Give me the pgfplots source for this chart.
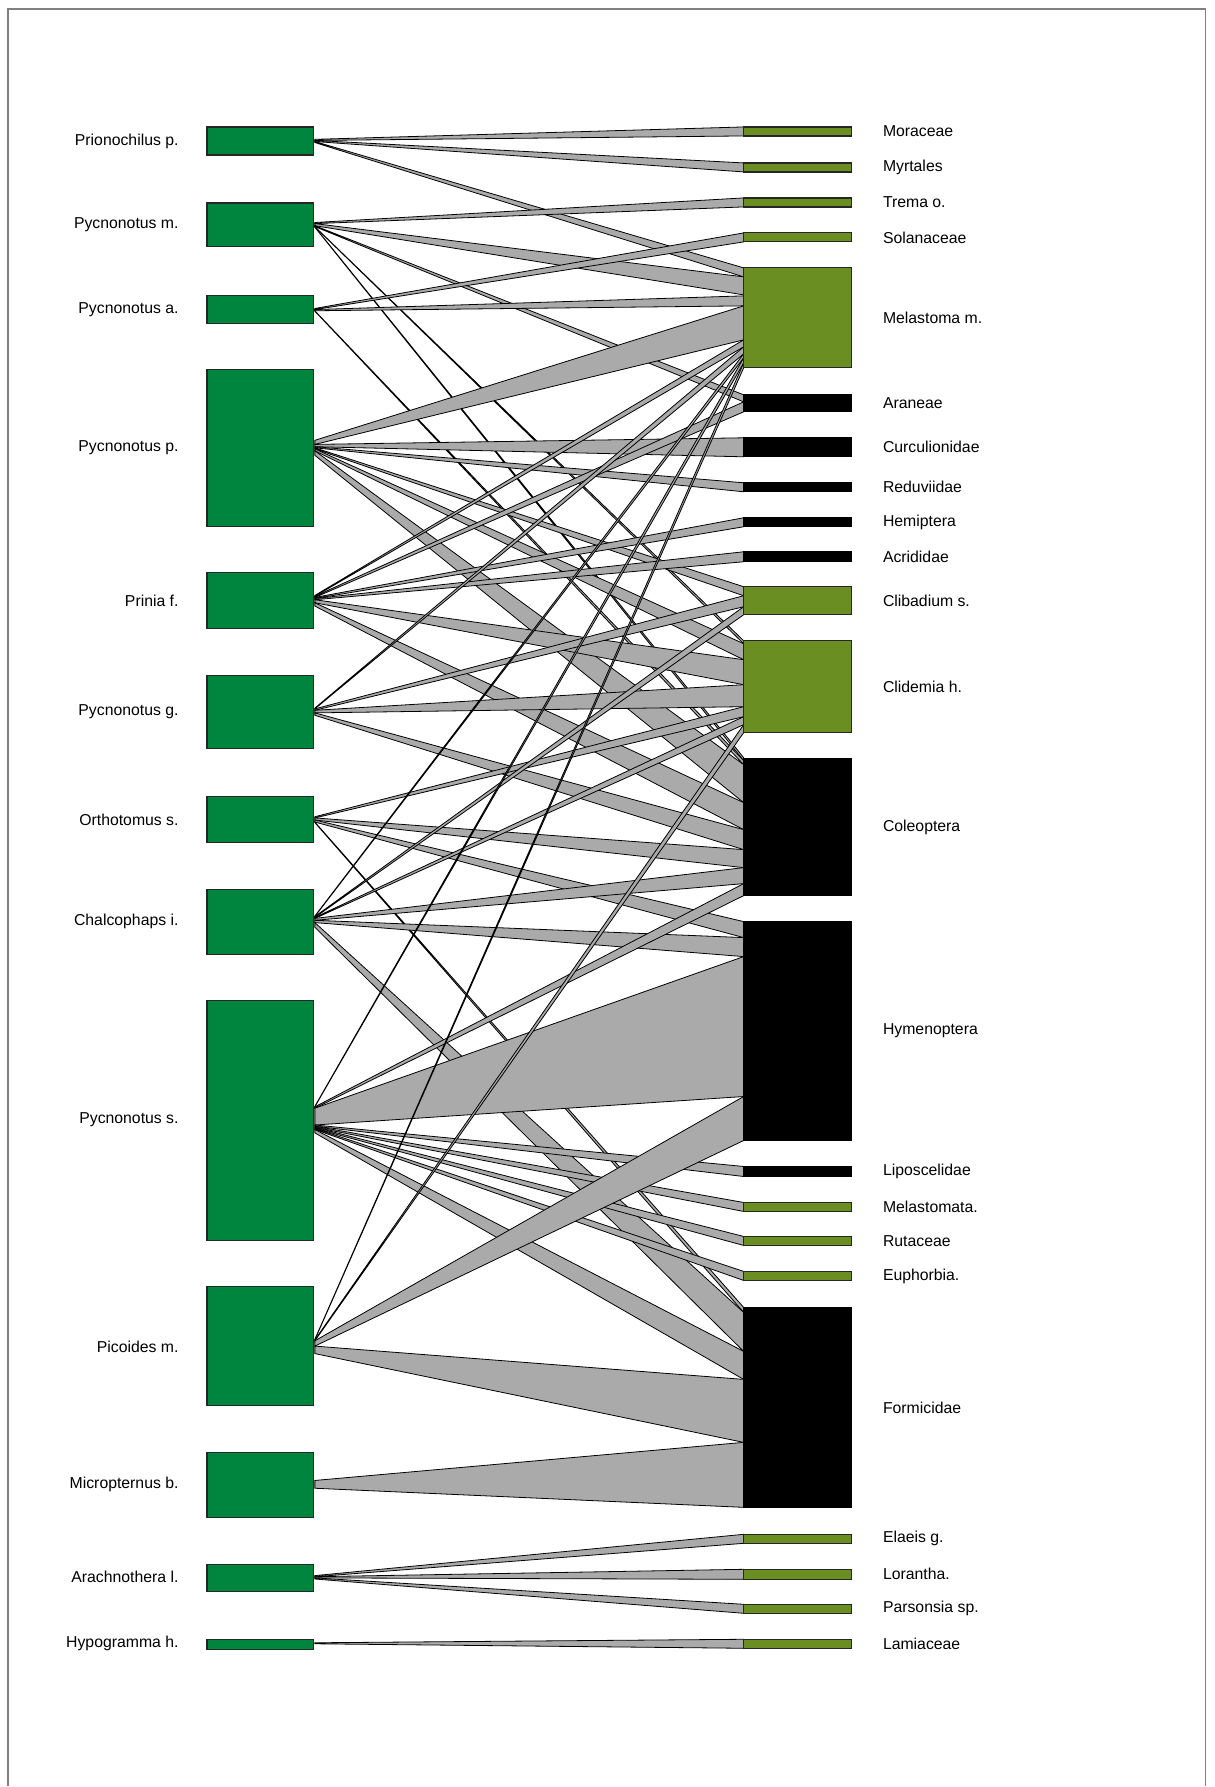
\documentclass[border=0pt]{standalone}
\usepackage{pgfplots}
\pgfplotsset{compat=1.18}
\usepackage{fontspec}
\setmainfont{Liberation Sans}
\definecolor{lgreen}{RGB}{0,133,63}
\definecolor{pgreen}{RGB}{107,142,35}
\definecolor{lnk}{RGB}{170,170,170}
\definecolor{frm}{RGB}{128,128,128}
\newcommand\lab{\fontsize{7.9}{9}\selectfont}
\newcommand\lk[4]{\addplot[lk] coordinates {(315,#1) (744,#3) (744,#4) (315,#2)} -- cycle;}
\newcommand\lbox[3]{\addplot[#1] coordinates {(207,#2) (314,#2) (314,#3) (207,#3)} -- cycle;}
\newcommand\rbox[3]{\addplot[#1] coordinates {(744,#2) (852,#2) (852,#3) (744,#3)} -- cycle;}
\begin{document}
\begin{tikzpicture}
\begin{axis}[width=607.5pt,height=893.5pt,scale only axis,
  xmin=0,xmax=1215,ymin=0,ymax=1787,y dir=reverse,hide axis,clip=false,
  lk/.style={fill=lnk,draw=black,line width=0.4pt,mark=none},
  lb/.style={fill=lgreen,draw=black!85,line width=0.6pt,mark=none},
  pb/.style={fill=pgreen,draw=black!85,line width=0.6pt,mark=none},
  ib/.style={fill=black,draw=black,line width=0.6pt,mark=none}]
\path (axis cs:0,0) rectangle (axis cs:1215,1787);
\draw[frm,line width=0.8pt] (axis cs:8,1787) -- (axis cs:8,9) -- (axis cs:1206,9) -- (axis cs:1206,1787);
% links: left y1, left y2, right y1, right y2
% Prionochilus p.
\lk{139.4}{140.5}{127}{136}
\lk{140.5}{141.6}{163}{172}
\lk{141.6}{142.6}{268}{277}
% Pycnonotus m.
\lk{222.6}{223.7}{198}{207}
\lk{223.7}{225.8}{277}{295}
\lk{225.8}{226.7}{395}{402}
\lk{226.7}{227.0}{641}{644}
\lk{227.0}{227.4}{758}{761}
% Pycnonotus a.
\lk{308.6}{309.7}{233}{242}
\lk{309.7}{310.9}{296}{306}
\lk{310.9}{311.4}{761}{765}
% Pycnonotus p.
\lk{440.5}{444.6}{306}{340}
\lk{444.6}{446.9}{438}{457}
\lk{446.9}{448.0}{483}{492}
\lk{448.0}{449.1}{587}{596}
\lk{449.1}{451.0}{644}{660}
\lk{451.0}{455.5}{765}{803}
% Prinia f.
\lk{595.7}{596.5}{340}{347}
\lk{596.5}{597.7}{402}{412}
\lk{597.7}{598.8}{518}{527}
\lk{598.8}{600.0}{552}{562}
\lk{600.0}{603.0}{660}{685}
\lk{603.0}{606.3}{803}{830}
% Pycnonotus g.
\lk{708.4}{709.2}{347}{354}
\lk{709.2}{710.6}{596}{607}
\lk{710.6}{713.2}{685}{707}
\lk{713.2}{715.6}{830}{850}
% Orthotomus s.
\lk{817.1}{818.3}{707}{717}
\lk{818.3}{820.4}{850}{868}
\lk{820.4}{822.4}{922}{938}
\lk{822.4}{823.0}{1308}{1313}
% Chalcophaps i.
\lk{916.4}{916.9}{354}{358}
\lk{916.9}{917.8}{607}{615}
\lk{917.8}{918.8}{717}{725}
\lk{918.8}{920.7}{868}{884}
\lk{920.7}{923.0}{938}{957}
\lk{923.0}{927.7}{1313}{1352}
% Pycnonotus s.
\lk{1106.7}{1107.3}{358}{363}
\lk{1107.3}{1108.7}{884}{896}
\lk{1108.7}{1125.5}{957}{1097}
\lk{1125.5}{1126.7}{1167}{1177}
\lk{1126.7}{1127.8}{1203}{1212}
\lk{1127.8}{1128.9}{1237}{1246}
\lk{1128.9}{1130.0}{1272}{1281}
\lk{1130.0}{1133.4}{1352}{1380}
% Picoides m.
\lk{1339.8}{1340.4}{363}{368}
\lk{1340.4}{1341.4}{725}{733}
\lk{1341.4}{1346.7}{1097}{1141}
\lk{1346.7}{1354.2}{1380}{1443}
% Micropternus b.
\lk{1481.1}{1488.9}{1443}{1508}
% Arachnothera l.
\lk{1576.3}{1577.4}{1535}{1544}
\lk{1577.4}{1578.6}{1570}{1580}
\lk{1578.6}{1579.7}{1605}{1614}
% Hypogramma h.
\lk{1643.5}{1644.5}{1640}{1649}
% left boxes
\lbox{lb}{127}{155}
\lbox{lb}{203}{247}
\lbox{lb}{296}{324}
\lbox{lb}{370}{527}
\lbox{lb}{573}{629}
\lbox{lb}{676}{749}
\lbox{lb}{797}{843}
\lbox{lb}{890}{955}
\lbox{lb}{1001}{1241}
\lbox{lb}{1287}{1406}
\lbox{lb}{1453}{1518}
\lbox{lb}{1565}{1592}
\lbox{lb}{1640}{1650}
% right boxes
\rbox{pb}{127}{136}
\rbox{pb}{163}{172}
\rbox{pb}{198}{207}
\rbox{pb}{233}{242}
\rbox{pb}{268}{368}
\rbox{ib}{395}{412}
\rbox{ib}{438}{457}
\rbox{ib}{483}{492}
\rbox{ib}{518}{527}
\rbox{ib}{552}{562}
\rbox{pb}{587}{615}
\rbox{pb}{641}{733}
\rbox{ib}{759}{896}
\rbox{ib}{922}{1141}
\rbox{ib}{1167}{1177}
\rbox{pb}{1203}{1212}
\rbox{pb}{1237}{1246}
\rbox{pb}{1272}{1281}
\rbox{ib}{1308}{1508}
\rbox{pb}{1535}{1544}
\rbox{pb}{1570}{1580}
\rbox{pb}{1605}{1614}
\rbox{pb}{1640}{1649}
% left labels
\begin{scope}[every node/.style={anchor=east,font=\lab,inner sep=0pt}]
\node at (axis cs:179,141) {Prionochilus p.};
\node at (axis cs:179,225) {Pycnonotus m.};
\node at (axis cs:179,310) {Pycnonotus a.};
\node at (axis cs:179,448) {Pycnonotus p.};
\node at (axis cs:179,601) {Prinia f.};
\node at (axis cs:179,712) {Pycnonotus g.};
\node at (axis cs:179,820) {Orthotomus s.};
\node at (axis cs:179,922) {Chalcophaps i.};
\node at (axis cs:179,1120) {Pycnonotus s.};
\node at (axis cs:179,1347) {Picoides m.};
\node at (axis cs:179,1485) {Micropternus b.};
\node at (axis cs:179,1578) {Arachnothera l.};
\node at (axis cs:179,1644) {Hypogramma h.};
\end{scope}
\begin{scope}[every node/.style={anchor=west,font=\lab,inner sep=0pt}]
\node at (axis cs:883,131.5) {Moraceae};
\node at (axis cs:883,167.5) {Myrtales};
\node at (axis cs:883,202.5) {Trema o.};
\node at (axis cs:883,237.5) {Solanaceae};
\node at (axis cs:883,318) {Melastoma m.};
\node at (axis cs:883,403.5) {Araneae};
\node at (axis cs:883,447.5) {Curculionidae};
\node at (axis cs:883,487.5) {Reduviidae};
\node at (axis cs:883,522.5) {Hemiptera};
\node at (axis cs:883,557) {Acrididae};
\node at (axis cs:883,601) {Clibadium s.};
\node at (axis cs:883,687) {Clidemia h.};
\node at (axis cs:883,827.5) {Coleoptera};
\node at (axis cs:883,1031.5) {Hymenoptera};
\node at (axis cs:883,1172) {Liposcelidae};
\node at (axis cs:883,1207.5) {Melastomata.};
\node at (axis cs:883,1241.5) {Rutaceae};
\node at (axis cs:883,1276.5) {Euphorbia.};
\node at (axis cs:883,1408) {Formicidae};
\node at (axis cs:883,1539.5) {Elaeis g.};
\node at (axis cs:883,1575) {Lorantha.};
\node at (axis cs:883,1609.5) {Parsonsia sp.};
\node at (axis cs:883,1644.5) {Lamiaceae};
\end{scope}
\end{axis}
\end{tikzpicture}
\end{document}
